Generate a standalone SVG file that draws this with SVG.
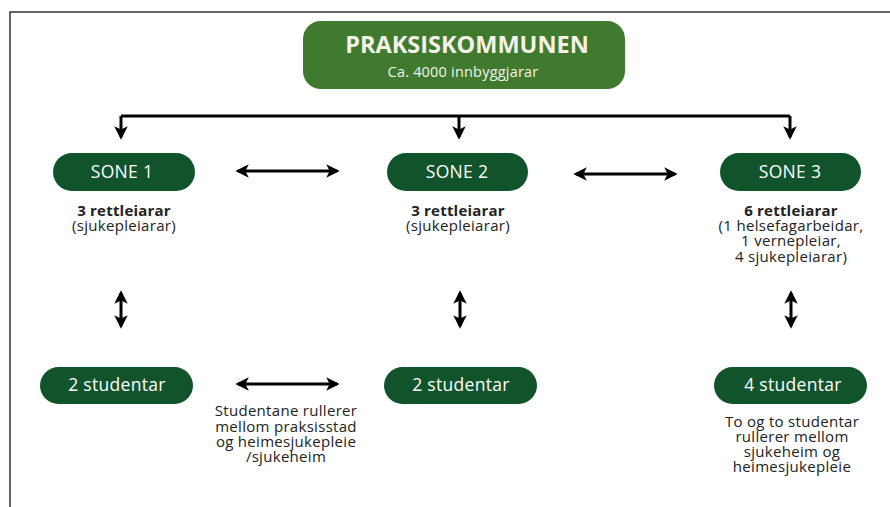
<svg xmlns="http://www.w3.org/2000/svg" width="890" height="507" viewBox="0 0 890 507">
<style>
text{font-family:"Open Sans","DejaVu Sans","Liberation Sans",sans-serif;text-anchor:middle}
.top{fill:#3f7a2f}
.pill{fill:#11542c}
.wt{fill:#ffffff;font-size:17.5px;letter-spacing:0.3px}
.ti{fill:#f4f1e8;font-size:23.5px;font-weight:700}
.sub{fill:#f4f1e8;font-size:14.5px;letter-spacing:0.2px}
.lb{fill:#222;font-size:15px;letter-spacing:0.3px}
.b{font-weight:700;letter-spacing:0.2px}
.ln{stroke:#000;stroke-width:3;fill:none}
</style>
<defs>
<marker id="ah" viewBox="0 0 10 10" refX="8" refY="5" markerWidth="4.5" markerHeight="4.5" orient="auto-start-reverse" markerUnits="strokeWidth">
<path d="M0,0 L10,5 L0,10 L2.5,5 Z" fill="#000"/>
</marker>
</defs>
<rect width="890" height="507" fill="#fff"/>
<path d="M10,507 V12 H890" stroke="#333" stroke-width="1.5" fill="none"/>
<g id="connectors">
<path class="ln" d="M121,116 H790"/>
<path class="ln" d="M121,116 V137" marker-end="url(#ah)"/>
<path class="ln" d="M459,116 V137" marker-end="url(#ah)"/>
<path class="ln" d="M790,116 V137" marker-end="url(#ah)"/>
<path class="ln" d="M238,171 H337" marker-start="url(#ah)" marker-end="url(#ah)"/>
<path class="ln" d="M576,174 H675" marker-start="url(#ah)" marker-end="url(#ah)"/>
<path class="ln" stroke-width="2.5" d="M121,293 V326" marker-start="url(#ah)" marker-end="url(#ah)"/>
<path class="ln" stroke-width="2.5" d="M460,293 V326" marker-start="url(#ah)" marker-end="url(#ah)"/>
<path class="ln" stroke-width="2.5" d="M791,293 V326" marker-start="url(#ah)" marker-end="url(#ah)"/>
<path class="ln" d="M238,384 H337" marker-start="url(#ah)" marker-end="url(#ah)"/>
</g>
<g id="praksiskommunen">
<rect class="top" x="303" y="21" width="322" height="68" rx="18"/>
<text class="ti" x="467" y="53">PRAKSISKOMMUNEN</text>
<text class="sub" x="463" y="77">Ca. 4000 innbyggjarar</text>
</g>
<g id="sone1">
<rect class="pill" x="53" y="153" width="142" height="38" rx="19"/>
<text class="wt" x="122" y="178">SONE 1</text>
<text class="lb b" x="124" y="216">3 rettleiarar</text>
<text class="lb" x="124" y="231">(sjukepleiarar)</text>
</g>
<g id="sone2">
<rect class="pill" x="387" y="153" width="141" height="38" rx="19"/>
<text class="wt" x="457" y="178">SONE 2</text>
<text class="lb b" x="458" y="216">3 rettleiarar</text>
<text class="lb" x="458" y="231">(sjukepleiarar)</text>
</g>
<g id="sone3">
<rect class="pill" x="720" y="153" width="141" height="38" rx="19"/>
<text class="wt" x="790" y="178">SONE 3</text>
<text class="lb b" x="791" y="216">6 rettleiarar</text>
<text class="lb" x="791" y="231">(1 helsefagarbeidar,</text>
<text class="lb" x="791" y="246">1 vernepleiar,</text>
<text class="lb" x="791" y="262">4 sjukepleiarar)</text>
</g>
<g id="studentar1">
<rect class="pill" x="40" y="367" width="153" height="37" rx="18.5"/>
<text class="wt" x="117" y="391">2 studentar</text>
</g>
<g id="studentar2">
<rect class="pill" x="384" y="367" width="153" height="37" rx="18.5"/>
<text class="wt" x="461" y="391">2 studentar</text>
</g>
<g id="studentar3">
<rect class="pill" x="714" y="367" width="153" height="37" rx="18.5"/>
<text class="wt" x="793" y="391">4 studentar</text>
</g>
<g id="note1">
<text class="lb" x="286" y="416">Studentane rullerer</text>
<text class="lb" x="286" y="432">mellom praksisstad</text>
<text class="lb" x="286" y="447">og heimesjukepleie</text>
<text class="lb" x="286" y="462">/sjukeheim</text>
</g>
<g id="note2">
<text class="lb" x="792" y="427">To og to studentar</text>
<text class="lb" x="792" y="442">rullerer mellom</text>
<text class="lb" x="792" y="457">sjukeheim og</text>
<text class="lb" x="792" y="472">heimesjukepleie</text>
</g>
</svg>
